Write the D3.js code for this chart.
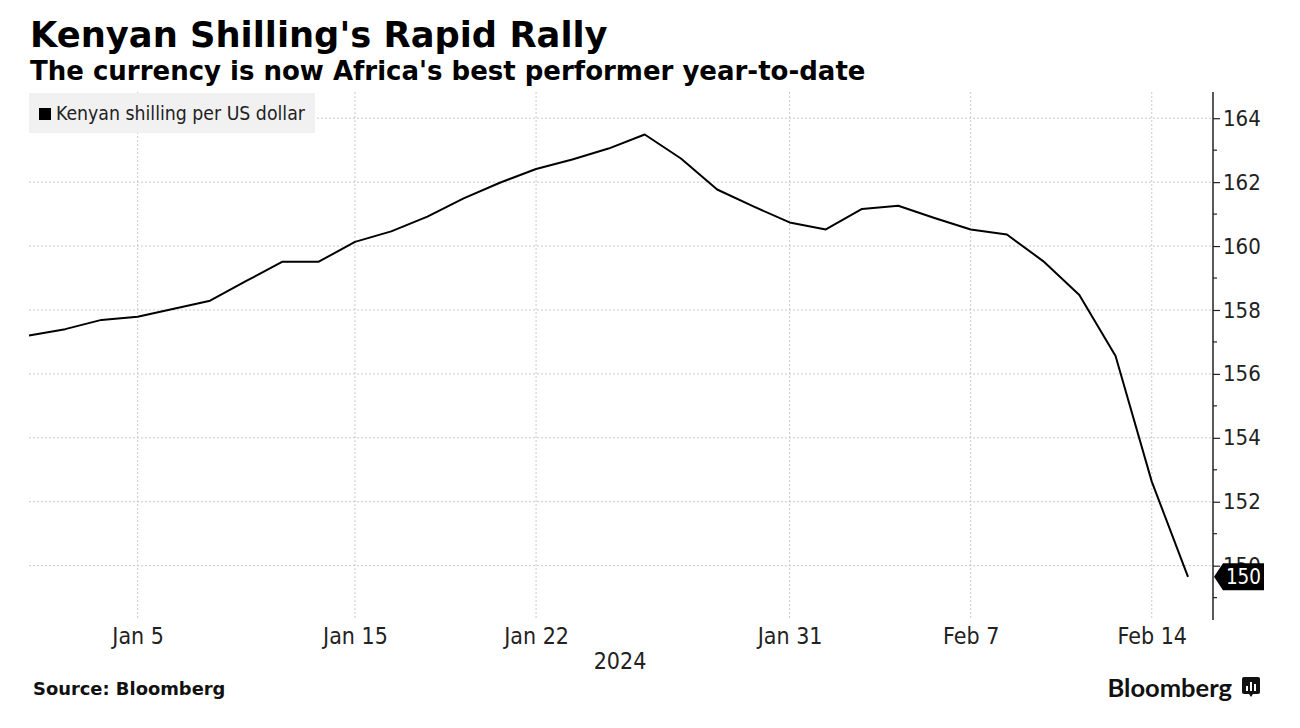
<!DOCTYPE html>
<html>
<head>
<meta charset="utf-8">
<script src="https://cdn.jsdelivr.net/npm/d3@7/dist/d3.min.js"></script>
<style>
  html, body { margin: 0; padding: 0; background: #fff; }
  svg { display: block; }
  .narrow { font-family: "Liberation Sans Narrow", "DejaVu Sans Condensed", "DejaVu Sans", sans-serif; }
</style>
</head>
<body>
<svg id="chart" width="1300" height="728"></svg>
<script>
// ---- Data ----
const title = "Kenyan Shilling's Rapid Rally";
const subtitle = "The currency is now Africa's best performer year-to-date";
const seriesName = "Kenyan shilling per US dollar";
const source = "Source: Bloomberg";
const yearLabel = "2024";

// business days (weekends skipped on the axis)
const dates = [
  "2024-01-02","2024-01-03","2024-01-04","2024-01-05",
  "2024-01-08","2024-01-09","2024-01-10","2024-01-11","2024-01-12",
  "2024-01-15","2024-01-16","2024-01-17","2024-01-18","2024-01-19",
  "2024-01-22","2024-01-23","2024-01-24","2024-01-25","2024-01-26",
  "2024-01-29","2024-01-30","2024-01-31","2024-02-01","2024-02-02",
  "2024-02-05","2024-02-06","2024-02-07","2024-02-08","2024-02-09",
  "2024-02-12","2024-02-13","2024-02-14","2024-02-15"
];
const values = [
  157.20, 157.40, 157.69, 157.79,
  158.04, 158.29, 158.91, 159.51, 159.51,
  160.13, 160.46, 160.92, 161.49, 161.98,
  162.41, 162.71, 163.05, 163.49, 162.74,
  161.77, 161.24, 160.74, 160.52, 161.16,
  161.26, 160.88, 160.52, 160.36, 159.53,
  158.47, 156.56, 152.63, 149.65
];
const xTickDates = ["2024-01-05","2024-01-15","2024-01-22","2024-01-31","2024-02-07","2024-02-14"];
const xTickLabels = ["Jan 5","Jan 15","Jan 22","Jan 31","Feb 7","Feb 14"];
const yMajorTicks = [150, 152, 154, 156, 158, 160, 162, 164];
const yMinorTicks = [149, 151, 153, 155, 157, 159, 161, 163];
const yDomain = [148.3, 164.82];

// ---- Layout ----
const plot = { left: 29, right: 1213, top: 92, bottom: 620 };
const firstX = 29, lastX = 1188;

const svg = d3.select("#chart");

const x = d3.scalePoint()
  .domain(dates)
  .range([firstX, lastX]);

const y = d3.scaleLinear()
  .domain(yDomain)
  .range([plot.bottom, plot.top]);

// Title & subtitle
svg.append("text")
  .attr("x", 30).attr("y", 47)
  .attr("font-family", "DejaVu Sans, sans-serif")
  .attr("font-weight", "bold")
  .attr("font-size", 35.3)
  .attr("fill", "#000")
  .text(title);

svg.append("text")
  .attr("x", 30).attr("y", 80)
  .attr("font-family", "DejaVu Sans, sans-serif")
  .attr("font-weight", "bold")
  .attr("font-size", 26)
  .attr("fill", "#000")
  .text(subtitle);

// Gridlines
const grid = svg.append("g");
grid.selectAll("line.h")
  .data(yMajorTicks)
  .join("line")
  .attr("class", "h")
  .attr("x1", plot.left).attr("x2", plot.right)
  .attr("y1", d => y(d)).attr("y2", d => y(d))
  .attr("stroke", "#c8c8c8")
  .attr("stroke-width", 1)
  .attr("stroke-dasharray", "2,2");

grid.selectAll("line.v")
  .data(xTickDates)
  .join("line")
  .attr("class", "v")
  .attr("x1", d => x(d)).attr("x2", d => x(d))
  .attr("y1", plot.top).attr("y2", plot.bottom)
  .attr("stroke", "#c8c8c8")
  .attr("stroke-width", 1)
  .attr("stroke-dasharray", "2,2");

// Legend box
const leg = svg.append("g");
leg.append("rect")
  .attr("x", 29).attr("y", 93).attr("width", 286).attr("height", 40)
  .attr("fill", "#f1f1f1");
leg.append("rect")
  .attr("x", 39).attr("y", 108).attr("width", 12).attr("height", 12)
  .attr("fill", "#000");
leg.append("text")
  .attr("class", "narrow")
  .attr("x", 56).attr("y", 120)
  .attr("font-size", 19.3)
  .attr("fill", "#222")
  .text(seriesName);

// Line
const line = d3.line()
  .x((d, i) => x(dates[i]))
  .y(d => y(d));

svg.append("path")
  .datum(values)
  .attr("d", line)
  .attr("fill", "none")
  .attr("stroke", "#000")
  .attr("stroke-width", 2)
  .attr("stroke-linejoin", "round");

// Y axis (right)
const yAxisG = svg.append("g")
  .attr("transform", `translate(${plot.right},0)`);

yAxisG.append("line")
  .attr("x1", 0).attr("x2", 0)
  .attr("y1", plot.top).attr("y2", plot.bottom)
  .attr("stroke", "#222").attr("stroke-width", 1.5);

const yAxis = d3.axisRight(y)
  .tickValues(yMajorTicks)
  .tickSize(7)
  .tickPadding(3)
  .tickFormat(d3.format("d"));
const yA = yAxisG.append("g").call(yAxis);
yA.select(".domain").remove();
yA.selectAll(".tick line").attr("stroke", "#222").attr("stroke-width", 1.2);
yA.selectAll(".tick text")
  .attr("class", "narrow")
  .attr("font-size", 22)
  .attr("fill", "#222");

yAxisG.selectAll("line.minor")
  .data(yMinorTicks)
  .join("line")
  .attr("class", "minor")
  .attr("x1", 0).attr("x2", 4)
  .attr("y1", d => y(d)).attr("y2", d => y(d))
  .attr("stroke", "#222").attr("stroke-width", 1.2);

// Last value tag
const lastVal = values[values.length - 1];
const ly = y(lastVal);
const tag = svg.append("g").attr("transform", `translate(${plot.right + 1},${ly})`);
tag.append("path")
  .attr("d", "M0,0 L9,-13.5 L50,-13.5 L50,13.5 L9,13.5 Z")
  .attr("fill", "#000");
tag.append("text")
  .attr("class", "narrow")
  .attr("x", 29.5).attr("y", 7.5)
  .attr("text-anchor", "middle")
  .attr("font-size", 20.5)
  .attr("fill", "#fff")
  .text(d3.format(".0f")(lastVal));

// X axis
const xAxis = d3.axisBottom(x)
  .tickValues(xTickDates)
  .tickSize(0)
  .tickPadding(0)
  .tickFormat((d, i) => xTickLabels[i]);
const xA = svg.append("g")
  .attr("transform", `translate(0,${plot.bottom + 24})`)
  .call(xAxis);
xA.select(".domain").remove();
xA.selectAll(".tick text")
  .attr("class", "narrow")
  .attr("font-size", 23)
  .attr("fill", "#222")
  .attr("dy", 0);

svg.append("text")
  .attr("class", "narrow")
  .attr("x", 620).attr("y", 669)
  .attr("text-anchor", "middle")
  .attr("font-size", 23)
  .attr("fill", "#222")
  .text(yearLabel);

// Footer
svg.append("text")
  .attr("x", 33).attr("y", 695)
  .attr("font-family", "DejaVu Sans, sans-serif")
  .attr("font-weight", "bold")
  .attr("font-size", 17.9)
  .attr("fill", "#111")
  .text(source);

svg.append("text")
  .attr("x", 1232).attr("y", 697)
  .attr("text-anchor", "end")
  .attr("font-family", "Lato, 'Open Sans', sans-serif")
  .attr("font-weight", "bold")
  .attr("font-size", 25.5)
  .attr("fill", "#111")
  .text("Bloomberg");

const logo = svg.append("g").attr("transform", "translate(1242,677)");
logo.append("rect").attr("x", 0).attr("y", 0).attr("width", 18).attr("height", 17).attr("rx", 2).attr("fill", "#111");
logo.append("path").attr("d", "M7,17 L9,20 L11,17 Z").attr("fill", "#111");
[[4, 9, 5], [8, 5, 9], [12, 7, 7]].forEach(b => {
  logo.append("rect").attr("x", b[0]).attr("y", b[1]).attr("width", 2).attr("height", b[2]).attr("fill", "#fff");
});
</script>
</body>
</html>
